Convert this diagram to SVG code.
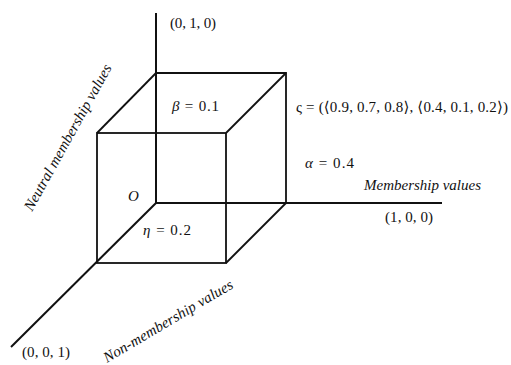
<svg xmlns="http://www.w3.org/2000/svg" width="511" height="365" viewBox="0 0 511 365">
<style>
.ax{stroke:#111;stroke-width:2;fill:none;stroke-linecap:butt}
.cb{stroke:#111;stroke-width:1.8;fill:none;stroke-linejoin:miter}
.m{font-family:"Liberation Serif","DejaVu Serif",serif;font-size:15px;fill:#111}
.it{font-family:"Liberation Serif","DejaVu Serif",serif;font-size:15px;font-style:italic;fill:#111}
</style>
<rect width="511" height="365" fill="#fff"/>
<g id="connectors">
<line class="ax" x1="156" y1="13" x2="156" y2="203"/>
<line class="ax" x1="156" y1="203" x2="442" y2="203"/>
<line class="ax" x1="156" y1="203" x2="11" y2="347"/>
</g>
<g id="cube">
<polyline class="cb" points="156,73 286,73 286,203"/>
<rect class="cb" x="97" y="133" width="129" height="130"/>
<line class="cb" x1="156" y1="73" x2="97" y2="133"/>
<line class="cb" x1="286" y1="73" x2="226" y2="133"/>
<line class="cb" x1="286" y1="203" x2="226" y2="263"/>
</g>
<g id="labels">
<text class="m" x="170" y="28" textLength="46">(0, 1, 0)</text>
<text class="m" x="385" y="222" textLength="48">(1, 0, 0)</text>
<text class="m" x="22" y="357" textLength="48">(0, 0, 1)</text>
<text class="m" x="172" y="111" textLength="47"><tspan font-style="italic">β</tspan> = 0.1</text>
<text class="m" x="296" y="112" textLength="212">ς = (⟨0.9, 0.7, 0.8⟩, ⟨0.4, 0.1, 0.2⟩)</text>
<text class="m" x="305" y="168" textLength="49"><tspan font-style="italic">α</tspan> = 0.4</text>
<text class="m" x="143" y="235" textLength="48"><tspan font-style="italic">η</tspan> = 0.2</text>
<text class="m" x="128" y="201" font-style="italic">O</text>
<text class="it" x="364" y="190" textLength="117">Membership values</text>
<text class="it" transform="translate(32,212) rotate(-61)" textLength="165">Neutral membership values</text>
<text class="it" transform="translate(107,363) rotate(-30.7)" textLength="148">Non-membership values</text>
</g>
</svg>
